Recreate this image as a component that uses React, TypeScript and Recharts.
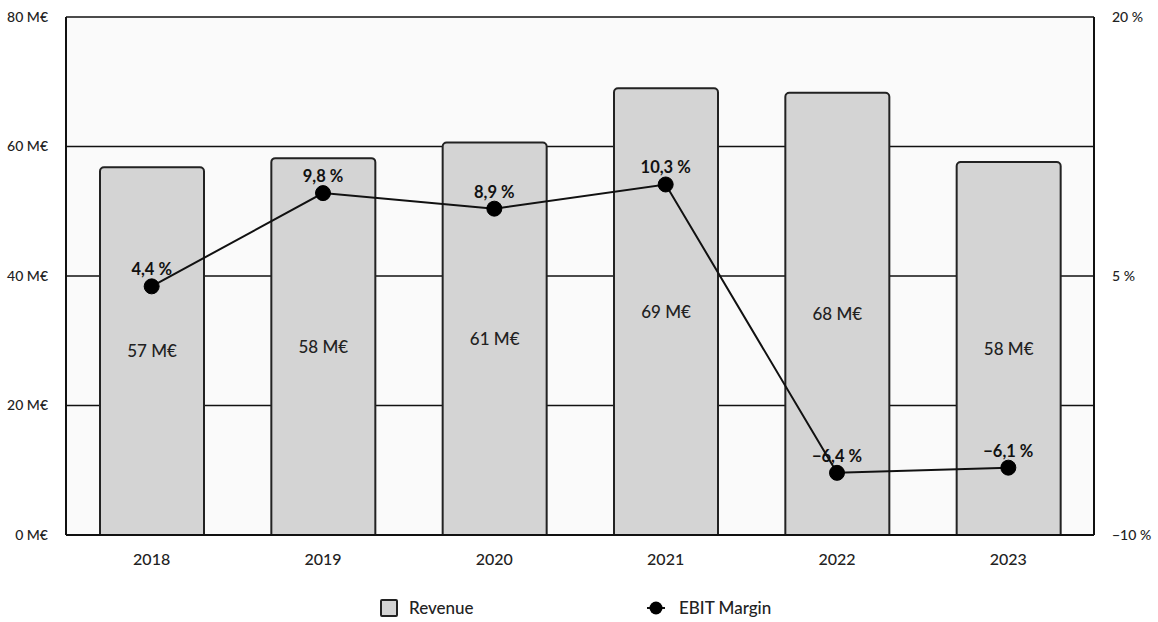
import React from "react";
import {
  ComposedChart,
  Bar,
  Line,
  XAxis,
  YAxis,
  CartesianGrid,
  LabelList,
  Legend,
} from "recharts";

const years = ["2018", "2019", "2020", "2021", "2022", "2023"];
const revenue = [56.8, 58.2, 60.6, 69.0, 68.3, 57.6];
const ebitMargin = [4.4, 9.8, 8.9, 10.3, -6.4, -6.1];
const leftTicks = [0, 20, 40, 60, 80];
const rightTicks = [-10, 5, 20];

const data = years.map((y, i) => ({ year: y, revenue: revenue[i], margin: ebitMargin[i] }));

const FONT = "Lato, 'Open Sans', sans-serif";

const fmtPct = (v: number) => {
  const s = Math.abs(v).toFixed(1).replace(".", ",");
  return (v < 0 ? "\u2212" : "") + s + " %";
};
const fmtTickPct = (v: number) => (v < 0 ? "\u2212" : "") + Math.abs(v) + " %";

const LegendContent = () => (
  <div style={{ position: "relative", height: 30, fontFamily: FONT, fontSize: 17, fontWeight: 500, color: "#222" }}>
    <div style={{ position: "absolute", left: 380, top: 14, display: "flex", alignItems: "center" }}>
      <div style={{ width: 14, height: 14, background: "#d4d4d4", border: "2px solid #222", borderRadius: 2, boxSizing: "content-box" }} />
      <span style={{ marginLeft: 11 }}>Revenue</span>
    </div>
    <div style={{ position: "absolute", left: 647, top: 14, display: "flex", alignItems: "center" }}>
      <svg width={18} height={18}>
        <line x1={0} y1={9} x2={18} y2={9} stroke="#111" strokeWidth={2} />
        <circle cx={9} cy={9} r={6.5} fill="#000" />
      </svg>
      <span style={{ marginLeft: 14 }}>EBIT Margin</span>
    </div>
  </div>
);

export default function App() {
  return (
    <div style={{ position: "absolute", left: 0, top: 0, width: 1158, height: 622, background: "#fff" }}>
      <ComposedChart
        width={1158}
        height={622}
        data={data}
        margin={{ top: 17, right: 0, left: 0, bottom: 0 }}
      >
        <CartesianGrid yAxisId="left" vertical={false} stroke="#111" strokeWidth={1.5} fill="#fafafa" />
        <XAxis
          dataKey="year"
          height={48}
          axisLine={{ stroke: "#111", strokeWidth: 2 }}
          tickLine={false}
          tick={{ fill: "#222", fontSize: 16, fontWeight: 500, fontFamily: FONT }}
          tickMargin={13}
        />
        <YAxis
          yAxisId="left"
          width={66}
          domain={[0, 80]}
          ticks={leftTicks}
          interval={0}
          axisLine={{ stroke: "#111", strokeWidth: 2 }}
          tickLine={false}
          tick={{ fill: "#222", fontSize: 14, fontWeight: 500, fontFamily: FONT }}
          tickFormatter={(v: number) => `${v} M€`}
          tickMargin={12}
        />
        <YAxis
          yAxisId="right"
          orientation="right"
          width={64}
          domain={[-10, 20]}
          ticks={rightTicks}
          interval={0}
          axisLine={{ stroke: "#111", strokeWidth: 2 }}
          tickLine={false}
          tick={{ fill: "#222", fontSize: 14, fontWeight: 500, fontFamily: FONT }}
          tickFormatter={fmtTickPct}
          tickMargin={12}
        />
        <Legend verticalAlign="bottom" height={39} content={<LegendContent />} />
        <Bar
          yAxisId="left"
          dataKey="revenue"
          name="Revenue"
          fill="#d4d4d4"
          stroke="#222"
          strokeWidth={2}
          barSize={104}
          radius={[4, 4, 0, 0]}
          isAnimationActive={false}
        >
          <LabelList
            dataKey="revenue"
            position="center"
            formatter={(v: number) => `${Math.round(v)} M€`}
            style={{ fill: "#222", fontSize: 17, fontWeight: 500, fontFamily: FONT }}
          />
        </Bar>
        <Line
          yAxisId="right"
          dataKey="margin"
          name="EBIT Margin"
          stroke="#111"
          strokeWidth={2}
          dot={{ r: 7.5, fill: "#000", stroke: "#000", strokeWidth: 1 }}
          activeDot={false}
          isAnimationActive={false}
        >
          <LabelList
            dataKey="margin"
            position="top"
            offset={11}
            formatter={fmtPct}
            style={{ fill: "#111", fontSize: 16.5, fontWeight: 700, fontFamily: FONT }}
          />
        </Line>
      </ComposedChart>
    </div>
  );
}
